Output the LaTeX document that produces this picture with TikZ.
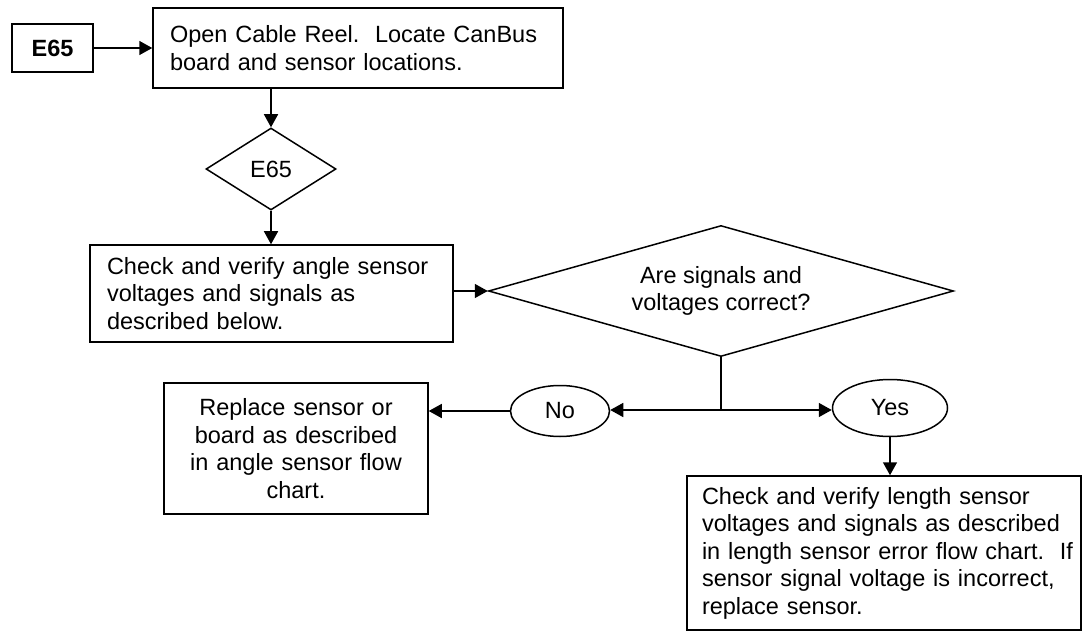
\documentclass[tikz,border=0pt]{standalone}
\usepackage{fontspec}
\setmainfont{Liberation Sans}
\usetikzlibrary{shapes.geometric, arrows.meta}

\begin{document}
\begin{tikzpicture}[x=1pt, y=-1pt,
	 every node/.style={font=\fontsize{23.5}{27.5}\selectfont},
	 box/.style={draw, line width=1.5pt, rectangle, inner ysep=0pt},
	 decision/.style={draw, line width=1.5pt, diamond, inner sep=0pt, align=center},
	 answer/.style={draw, line width=1.5pt, ellipse, inner sep=0pt},
	 flow/.style={line width=1.5pt, -{Triangle[length=13pt, width=14pt]}}]
	 \useasboundingbox (0, 0) rectangle (1087, 631);
	 
	 % start
	 \node[box, minimum width=81pt, minimum height=48pt, font=\fontsize{23.5}{27.5}\selectfont\bfseries] (start) at (52.5, 48) {E65};
	 \node[box, align=left, inner xsep=17pt, text width=376pt, minimum height=80pt] (open) at (358, 48)
	 {Open Cable Reel.\ \ Locate CanBus\\board and sensor locations.};
	 \node[decision, aspect=1.6, minimum width=130pt, minimum height=82pt] (code) at (271, 169) {E65};
	 \node[box, align=left, inner xsep=17pt, text width=329pt, minimum height=97pt] (angle) at (271.5, 293.5)
	 {Check and verify angle sensor\\voltages and signals as\\described below.};
	 \node[decision, aspect=3.5, minimum width=465pt, minimum height=131pt] (correct) at (721, 291)
	 {Are signals and\\voltages correct?};
	 
	 % answers
	 \coordinate (split) at (721, 410);
	 \node[answer, minimum width=99pt, minimum height=51pt] (no) at (560, 411) {No};
	 \node[answer, minimum width=115pt, minimum height=57pt] (yes) at (890, 408) {Yes};
	 \node[box, align=center, inner xsep=10pt, text width=244pt, minimum height=131pt] (replace) at (296, 448.5)
	 {Replace sensor or\\board as described\\in angle sensor flow\\chart.};
	 \node[box, align=left, inner xsep=15pt, text width=364pt, minimum height=154pt] (length) at (884, 553)
	 {Check and verify length sensor\\voltages and signals as described\\\mbox{in length sensor error flow chart.\ \ If}\\sensor signal voltage is incorrect,\\replace sensor.};
	 
	 % connectors
	 \draw[flow] (start) -- (open);
	 \draw[flow] (code.north |- open.south) -- (code.north);
	 \draw[flow] (code.south) -- (code.south |- angle.north);
	 \draw[flow] (correct.west -| angle.east) -- (correct.west);
	 \draw[line width=1.5pt] (correct.south) -- (split);
	 \draw[flow] (split) -- (split -| no.east);
	 \draw[flow] (split) -- (split -| yes.west);
	 \draw[flow] (no.west) -- (no.west -| replace.east);
	 \draw[flow] (yes.south) -- (yes.south |- length.north);
\end{tikzpicture}
\end{document}
